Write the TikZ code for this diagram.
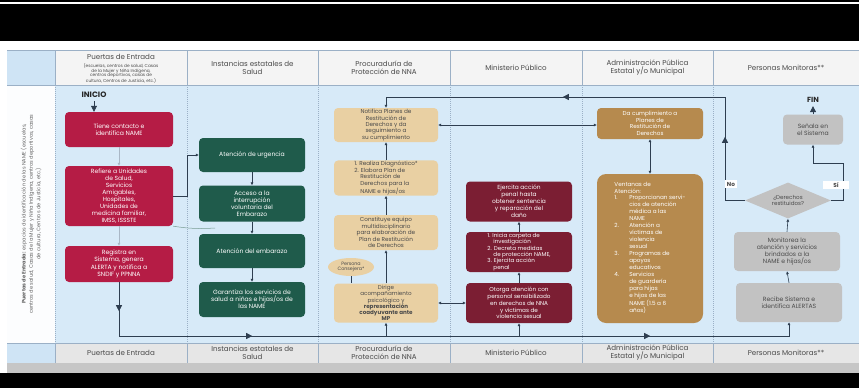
\documentclass[tikz,border=0pt]{standalone}
\usepackage{fontspec}
\setmainfont{Poppins}
\usetikzlibrary{arrows.meta,shapes.geometric,decorations.markings}
\definecolor{cRed}{HTML}{B51C45}
\definecolor{cGreen}{HTML}{1F5B4B}
\definecolor{cTan}{HTML}{E9D0A3}
\definecolor{cMaroon}{HTML}{7B1E33}
\definecolor{cAdmin}{HTML}{B68A4E}
\definecolor{cGray}{HTML}{C2C2C2}
\definecolor{cBlue}{HTML}{D7EAF8}
\definecolor{cHead}{HTML}{F4F4F4}
\definecolor{cFoot}{HTML}{E6E6E6}
\definecolor{cLeft}{HTML}{CFE4F5}
\definecolor{cArrow}{HTML}{2E3E50}
\definecolor{cDiv}{HTML}{9BB0C6}
\definecolor{cSoft}{HTML}{A9B7C6}
\definecolor{cText}{HTML}{4A4A4A}
\begin{document}
\begin{tikzpicture}[x=1pt,y=-1pt,
  basebox/.style={rectangle, rounded corners=4pt, align=center, inner sep=1pt,
    font=\fontsize{6.1}{7.1}\selectfont},
  redbox/.style={basebox, fill=cRed, text=white},
  greenbox/.style={basebox, fill=cGreen, text=white},
  tanbox/.style={basebox, fill=cTan, text=cText},
  marbox/.style={basebox, fill=cMaroon, text=white},
  admbox/.style={basebox, fill=cAdmin, text=white},
  graybox/.style={basebox, fill=cGray, text=cText},
  headtxt/.style={align=center, text=cText, font=\fontsize{7.1}{8.1}\selectfont},
  conn/.style={draw=cArrow, line width=0.6pt},
  smallarr/.style={conn, -{Latex[length=3pt,width=3pt]}},
  bismall/.style={conn, {Latex[length=3pt,width=3pt]}-{Latex[length=3pt,width=3pt]}},
  softarr/.style={draw=cSoft, line width=0.7pt, -{Latex[length=3pt,width=3pt]}},
  midarr/.style={postaction={decorate,decoration={markings,
      mark=at position #1 with {\arrow{Triangle[length=6pt,width=6pt]}}}}},
  bigtip/.style={conn, -{Triangle[length=6pt,width=6pt]}},
  hdiv/.style={draw=cDiv, line width=0.4pt},
  cdiv/.style={draw=cDiv, line width=0.5pt, dash pattern=on 1pt off 1pt},
  lbl/.style={fill=white, inner sep=1.5pt, font=\bfseries\fontsize{5.8}{6}\selectfont, text=cText}
]
\useasboundingbox (0,0) rectangle (859,388);
% frame bands
\fill[white] (0,0) rectangle (859,388);
\fill[black] (0,0) rectangle (859,1.6);
\fill[black] (0,4) rectangle (859,41);
\fill[black] (0,373) rectangle (859,388);
\fill[gray!45] (7,363) rectangle (859,373);
% table backgrounds
\fill[cHead] (55,50) rectangle (859,85);
\fill[cLeft] (7,50) rectangle (55,85);
\fill[white!92!cBlue] (7,85) rectangle (55,343);
\fill[cBlue] (55,85) rectangle (859,343);
\fill[cFoot] (55,343) rectangle (859,363);
\fill[cLeft] (7,343) rectangle (55,363);
\draw[hdiv] (7,50) -- (859,50);
\draw[hdiv] (7,85) -- (859,85);
\draw[hdiv] (7,343) -- (859,343);
\foreach \xx in {55,187,318,450,582,713}{
  \draw[hdiv] (\xx,50) -- (\xx,85);
  \draw[cdiv] (\xx,85) -- (\xx,343);
  \draw[hdiv] (\xx,343) -- (\xx,363);
}
% header texts
\node[headtxt] (h1) at (121,57) {Puertas de Entrada};
\node[align=center, text=cText, font=\fontsize{4.3}{4.8}\selectfont] (h1b) at (121,73.5)
  {(escuelas, centros de salud, Casas\\de la Mujer y Niña Indígena,\\centros deportivos, casas de\\cultura, Centros de Justicia, etc.)};
\node[headtxt] (h2) at (252.5,67.5) {Instancias estatales de\\Salud};
\node[headtxt] (h3) at (384,67.5) {Procuraduría de\\Protección de NNA};
\node[headtxt] (h4) at (516,67.5) {Ministerio Público};
\node[headtxt] (h5) at (647.5,67.5) {Administración Pública\\Estatal y/o Municipal};
\node[headtxt] (h6) at (786,67.5) {Personas Monitoras**};
% footer texts
\node[headtxt] (f1) at (121,353) {Puertas de Entrada};
\node[headtxt] (f2) at (252.5,353) {Instancias estatales de\\Salud};
\node[headtxt] (f3) at (384,353) {Procuraduría de\\Protección de NNA};
\node[headtxt] (f4) at (516,353) {Ministerio Público};
\node[headtxt] (f5) at (647.5,353) {Administración Pública\\Estatal y/o Municipal};
\node[headtxt] (f6) at (786,353) {Personas Monitoras**};
% left vertical text
\node[rotate=90, align=center, text=cText!85, font=\fontsize{5.1}{7.4}\selectfont] (side) at (31,214)
  {\textbf{Puertas de Entrada:} espacios de identificación de las NAME (escuelas,\\
   centros de salud, Casas de la Mujer y Niña Indígena, centros deportivos, casas\\
   de cultura, Centros de Justicia, etc.)};
% column 1
\node[font=\bfseries\fontsize{7.8}{8}\selectfont, text=black!85] (inicio) at (94,95) {INICIO};
\node[redbox, minimum width=108, minimum height=35] (tiene) at (119,129.5) {Tiene contacto e\\identifica NAME};
\node[redbox, minimum width=108, minimum height=60, font=\fontsize{6}{7.1}\selectfont] (refiere) at (119,196)
  {Refiere a Unidades\\de Salud,\\Servicios\\Amigables,\\Hospitales,\\Unidades de\\medicina familiar,\\IMSS, ISSSTE};
\node[redbox, minimum width=108, minimum height=36] (registra) at (119,264)
  {Registra en\\Sistema, genera\\ALERTA y notifica a\\SNDIF y PPNNA};
% column 2
\node[greenbox, minimum width=106, minimum height=34] (urgencia) at (252,155) {Atención de urgencia};
\node[greenbox, minimum width=106, minimum height=36] (acceso) at (252,203.5) {Acceso a la\\interrupción\\voluntaria del\\Embarazo};
\node[greenbox, minimum width=106, minimum height=34] (embarazo) at (252,251) {Atención del embarazo};
\node[greenbox, minimum width=106, minimum height=35] (garantiza) at (252,299.5) {Garantiza los servicios de\\salud a niñas e hijas/os de\\las NAME};
% column 3
\node[tanbox, minimum width=104, minimum height=34, font=\fontsize{5.7}{6.4}\selectfont] (notifica) at (386,125)
  {Notifica Planes de\\Restitución de\\Derechos y da\\seguimiento a\\su cumplimiento};
\node[tanbox, minimum width=104, minimum height=34, align=left, font=\fontsize{5.7}{6.4}\selectfont] (diag) at (386,178)
  {1. Realiza Diagnóstico*\\2. Elabora Plan de\\\hspace*{6pt}Restitución de\\\hspace*{6pt}Derechos para la\\\hspace*{6pt}NAME e hijas/os};
\node[tanbox, minimum width=104, minimum height=35, font=\fontsize{5.7}{6.5}\selectfont] (constituye) at (386,232.5)
  {Constituye equipo\\multidisciplinario\\para elaboración de\\Plan de Restitución\\de Derechos};
\node[ellipse, fill=cTan, text=cText, inner sep=0pt, minimum width=46, minimum height=18, align=center,
  font=\fontsize{4.8}{5.4}\selectfont] (consejera) at (351,267) {Persona\\Consejera*};
\node[tanbox, minimum width=104, minimum height=39, font=\fontsize{5.6}{6.2}\selectfont] (dirige) at (386,303)
  {Dirige\\acompañamiento\\psicológico y\\\textbf{representación}\\\textbf{coadyuvante ante}\\\textbf{MP}};
% column 4
\node[marbox, minimum width=106, minimum height=40, font=\fontsize{5.9}{7}\selectfont] (ejercita) at (519,201.5)
  {Ejercita acción\\penal hasta\\obtener sentencia\\y reparación del\\daño};
\node[marbox, minimum width=106, minimum height=40, align=left, font=\fontsize{5.6}{6.3}\selectfont] (inicia) at (519,252)
  {1. Inicia carpeta de\\\hspace*{6pt}investigación\\2. Decreta medidas\\\hspace*{6pt}de protección NAME,\\3. Ejercita acción\\\hspace*{6pt}penal};
\node[marbox, minimum width=106, minimum height=40, font=\fontsize{5.7}{6.8}\selectfont] (otorga) at (519,303)
  {Otorga atención con\\personal sensibilizado\\en derechos de NNA\\y víctimas de\\violencia sexual};
% column 5
\node[admbox, minimum width=106, minimum height=31, font=\fontsize{5.7}{6.5}\selectfont] (dacumpl) at (650,123.5)
  {Da cumplimiento a\\Planes de\\Restitución de\\Derechos};
\node[admbox, rounded corners=9pt, minimum width=106, minimum height=149, align=left,
  font=\fontsize{5.7}{7}\selectfont] (ventanas) at (650,248.5)
  {Ventanas de\\Atención:\\
   \begin{tabular}{@{}l@{\hspace{10pt}}l@{}}
   1. & Proporcionan servi-\\ & cios de atención\\ & médica a las\\ & NAME\\
   2. & Atención a\\ & víctimas de\\ & violencia\\ & sexual\\
   3. & Programas de\\ & apoyos\\ & educativos\\
   4. & Servicios\\ & de guardería\\ & para hijas\\ & e hijos de las\\ & NAME (1.5 a 6\\ & años)
   \end{tabular}};
% column 6
\node[font=\bfseries\fontsize{7.4}{8}\selectfont, text=black!85] (fin) at (813,100) {FIN};
\node[graybox, minimum width=60, minimum height=30] (senala) at (813,129.5) {Señala en\\el Sistema};
\node[diamond, fill=cGray, text=cText, inner sep=0pt, aspect=2.4, minimum width=86, minimum height=36,
  align=center, font=\fontsize{5.6}{6.5}\selectfont] (derechos) at (788,200.5) {¿Derechos\\restituidos?};
\node[graybox, minimum width=106, minimum height=39] (monitorea) at (787,251.5)
  {Monitorea la\\atención y servicios\\brindados a la\\NAME e hijas/os};
\node[graybox, minimum width=106, minimum height=39] (recibe) at (789,302.5)
  {Recibe Sistema e\\identifica ALERTAS};
% coordinates
\coordinate (bl) at (119,336);
\coordinate (br) at (789,336);
\coordinate (nA) at (725,200.5);
\coordinate (nB) at (725,97);
\coordinate (sA) at (843,200.5);
\coordinate (sB) at (843,163);
\coordinate (rA) at (187,196);
\coordinate (gEnd) at (215,228);
% connectors column 1
\draw[bigtip] (inicio.south) -- (inicio.south |- tiene.north);
\draw[softarr] (tiene.south) -- (refiere.north);
\draw[softarr] (refiere.south) -- (registra.north);
\draw[smallarr] (refiere.east) -- (rA) |- (urgencia.west);
\draw[draw=cGreen!60, line width=0.5pt] (refiere.south east) to[bend right=6] (gEnd);
% bottom main line
\draw[smallarr, midarr=29pt, midarr=187pt, midarr=585pt] (registra.south) -- (bl) -- (br) -- (recibe.south);
\draw[smallarr] (dirige.south |- bl) -- (dirige.south);
\draw[smallarr] (otorga.south |- bl) -- (otorga.south);
% column 2
\draw[smallarr] (urgencia.south) -- (acceso.north);
\draw[smallarr] (acceso.south) -- (embarazo.north);
\draw[smallarr] (embarazo.south) -- (garantiza.north);
% column 3
\draw[smallarr] (dirige.north) -- (constituye.south);
\draw[smallarr] (constituye.north) -- (diag.south);
\draw[smallarr] (diag.north) -- (notifica.south);
\draw[conn] (consejera.south) -- (consejera.south |- dirige.north);
\draw[bismall] (dirige.east) -- (otorga.west);
% column 4
\draw[smallarr] (otorga.north) -- (inicia.south);
\draw[smallarr] (inicia.north) -- (ejercita.south);
% column 5
\draw[bismall] (notifica.east) -- (notifica.east -| dacumpl.west);
\draw[bismall] (dacumpl.south) -- (ventanas.north);
% column 6
\draw[smallarr] (recibe.north) -- (monitorea.south);
\draw[smallarr] (monitorea.north) -- (derechos.south);
\draw[smallarr, midarr=83.5pt, midarr=285.5pt] (derechos.west) -- (nA) -- (nB) -- (notifica.north |- nB) -- (notifica.north);
\draw[smallarr] (derechos.east) -- (sA) -- (sB) -- (sB -| senala.south) -- (senala.south);
\draw[bigtip] (senala.north) -- (fin.south);
\node[lbl] (no) at (731,184) {No};
\node[lbl, minimum width=26] (si) at (836,185) {Sí};
\end{tikzpicture}
\end{document}
